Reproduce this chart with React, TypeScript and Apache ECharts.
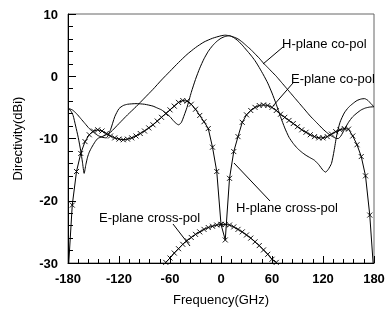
import React, { useEffect, useRef } from "react";
import * as echarts from "echarts";

// E-plane co-pol (plain line)
const eCoAngles = [-180, -175, -170, -165, -160, -155, -150, -145, -140, -135, -130, -125, -120, -115, -110, -100, -90, -80, -75, -70, -65, -60, -55, -50, -47, -45, -40, -35, -30, -25, -20, -15, -10, -5, 0, 5, 10, 15, 20, 25, 30, 35, 40, 45, 50, 55, 60, 65, 70, 75, 80, 85, 90, 95, 100, 105, 110, 115, 120, 123, 126, 130, 133, 136, 140, 145, 150, 155, 160, 165, 169, 173, 177, 180];
const eCoValues = [-5.15, -5.4, -6.0, -6.8, -7.6, -8.4, -9.0, -9.5, -9.8, -9.9, -8.6, -6.5, -5.2, -4.7, -4.5, -4.4, -4.5, -4.8, -5.1, -5.4, -5.9, -6.5, -7.3, -7.8, -7.5, -6.9, -5.0, -2.6, -0.5, 1.3, 2.8, 4.0, 4.9, 5.6, 6.1, 6.4, 6.5, 6.2, 5.7, 5.0, 4.2, 3.4, 2.5, 1.4, 0.2, -1.1, -2.7, -4.5, -6.5, -8.3, -9.8, -10.8, -11.6, -12.2, -12.7, -13.1, -13.5, -14.2, -15.1, -15.4, -15.0, -14.0, -12.0, -9.6, -7.4, -5.9, -5.0, -4.4, -3.9, -3.65, -3.6, -3.9, -4.5, -4.9];

// H-plane co-pol (plain line)
const hCoAngles = [-180, -177, -174, -171, -168, -165, -163, -161, -159, -157, -155, -152, -148, -145, -140, -135, -130, -120, -110, -100, -90, -80, -70, -60, -50, -40, -30, -20, -10, 0, 5, 10, 15, 20, 25, 30, 35, 40, 45, 50, 55, 60, 65, 70, 75, 80, 85, 90, 95, 100, 105, 110, 115, 120, 125, 130, 135, 138, 141, 145, 150, 155, 160, 165, 170, 175, 180];
const hCoValues = [-5.2, -5.5, -6.3, -8.0, -9.8, -12.0, -13.8, -15.6, -14.2, -13.0, -12.2, -11.4, -10.5, -10.0, -9.7, -9.4, -9.0, -7.6, -6.2, -4.9, -3.5, -2.1, -0.6, 0.8, 2.2, 3.5, 4.6, 5.5, 6.1, 6.5, 6.6, 6.5, 6.3, 6.0, 5.5, 4.9, 4.3, 3.6, 2.9, 2.1, 1.4, 0.7, 0.0, -0.8, -1.6, -2.4, -3.2, -4.0, -4.8, -5.6, -6.4, -7.1, -7.8, -8.5, -9.1, -9.6, -9.95, -10.0, -9.6, -8.6, -7.4, -6.5, -5.9, -5.4, -5.1, -4.95, -4.9];

// H-plane cross-pol (line with x markers), every 5 degrees
const hCrossAngles = [-180, -175, -170, -165, -160, -155, -150, -145, -140, -135, -130, -125, -120, -115, -110, -105, -100, -95, -90, -85, -80, -75, -70, -65, -60, -55, -50, -45, -40, -35, -30, -25, -20, -15, -10, -5, 0, 5, 10, 15, 20, 25, 30, 35, 40, 45, 50, 55, 60, 65, 70, 75, 80, 85, 90, 95, 100, 105, 110, 115, 120, 125, 130, 135, 140, 145, 150, 155, 160, 165, 170, 175, 180];
const hCrossValues = [-32, -20.7, -15.3, -12.4, -10.5, -9.4, -8.8, -8.6, -8.8, -9.2, -9.6, -9.9, -10.1, -10.2, -10.1, -9.9, -9.6, -9.2, -8.8, -8.3, -7.8, -7.2, -6.6, -6.0, -5.4, -4.8, -4.2, -3.9, -4.0, -4.5, -5.3, -6.3, -7.3, -8.4, -11.4, -15.3, -23.8, -26.3, -16.4, -12.1, -9.7, -7.4, -6.2, -5.5, -5.0, -4.7, -4.6, -4.7, -5.0, -5.5, -6.1, -6.6, -7.1, -7.6, -8.1, -8.6, -9.0, -9.4, -9.7, -9.9, -9.9, -9.7, -9.3, -8.9, -8.6, -8.4, -8.5, -9.6, -11.0, -12.9, -16.0, -22.3, -32];

// E-plane cross-pol (line with x markers)
const eCrossAngles = [-65, -60, -55, -50, -45, -40, -35, -30, -25, -20, -15, -10, -5, 0, 5, 10, 15, 20, 25, 30, 35, 40, 45, 50, 55, 60, 65];
const eCrossValues = [-29.9, -29.2, -28.4, -27.7, -27.0, -26.4, -25.9, -25.4, -25.0, -24.6, -24.3, -24.1, -23.9, -23.8, -23.8, -23.9, -24.2, -24.6, -25.0, -25.5, -26.0, -26.6, -27.2, -27.9, -28.6, -29.4, -29.9];

const xTicks = { min: -180, max: 180, interval: 60 };
const yTicks = { min: -30, max: 10, interval: 10 };

const seriesLabels = ["H-plane co-pol", "E-plane co-pol", "H-plane cross-pol", "E-plane cross-pol"];

const crossSymbol = "path://M0,0L10,10M10,0L0,10";
const FONT = '"Liberation Sans", Arial, sans-serif';

const zip = (a: number[], v: number[]) => a.map((x, i) => [x, v[i]]);

export default function App() {
  const ref = useRef<HTMLDivElement>(null);
  useEffect(() => {
    const chart = echarts.init(ref.current!, null, { renderer: "svg" });
    const plain = (name: string, a: number[], v: number[]) => ({
      name,
      type: "line",
      data: zip(a, v),
      symbol: "none",
      smooth: 0.2,
      lineStyle: { color: "#000", width: 1 },
      clip: true,
    });
    const marked = (name: string, a: number[], v: number[]) => ({
      name,
      type: "line",
      data: zip(a, v),
      symbol: crossSymbol,
      symbolSize: 5,
      showAllSymbol: true,
      itemStyle: { color: "none", borderColor: "#000", borderWidth: 0.9 },
      lineStyle: { color: "#000", width: 1 },
      clip: true,
    });
    const label = (text: string, x: number, y: number) => ({
      type: "text",
      x,
      y,
      style: { text, font: `13px ${FONT}`, fill: "#000", align: "left", verticalAlign: "middle" },
      z: 100,
    });
    const leader = (x1: number, y1: number, x2: number, y2: number) => ({
      type: "line",
      shape: { x1, y1, x2, y2 },
      style: { stroke: "#000", lineWidth: 1 },
      z: 100,
    });
    chart.setOption({
      animation: false,
      grid: { left: 68, right: 15, top: 14, bottom: 55, show: true, borderColor: "#666", borderWidth: 1 },
      xAxis: {
        type: "value",
        ...xTicks,
        axisLine: { show: true, onZero: false, lineStyle: { color: "#000", width: 1 } },
        axisTick: { show: true, inside: true, length: 7, lineStyle: { color: "#000" } },
        minorTick: { show: true, splitNumber: 5, length: 4, lineStyle: { color: "#000" } },
        splitLine: { show: false },
        axisLabel: { color: "#000", fontWeight: "bold", fontSize: 13, fontFamily: FONT, margin: 9 },
        name: "Frequency(GHz)",
        nameLocation: "middle",
        nameGap: 30,
        nameTextStyle: { fontSize: 13, fontFamily: FONT, color: "#000" },
      },
      yAxis: {
        type: "value",
        ...yTicks,
        axisLine: { show: true, onZero: false, lineStyle: { color: "#000", width: 1 } },
        axisTick: { show: true, inside: true, length: 8, lineStyle: { color: "#000" } },
        minorTick: { show: true, splitNumber: 5, length: 5, lineStyle: { color: "#000" } },
        splitLine: { show: false },
        axisLabel: { color: "#000", fontWeight: "bold", fontSize: 13, fontFamily: FONT, margin: 10 },
        name: "Directivity(dBi)",
        nameLocation: "middle",
        nameGap: 44,
        nameTextStyle: { fontSize: 13, fontFamily: FONT, color: "#000" },
      },
      series: [
        plain(seriesLabels[0], hCoAngles, hCoValues),
        plain(seriesLabels[1], eCoAngles, eCoValues),
        marked(seriesLabels[2], hCrossAngles, hCrossValues),
        marked(seriesLabels[3], eCrossAngles, eCrossValues),
      ],
      graphic: [
        label(seriesLabels[0], 282, 43),
        label(seriesLabels[1], 291, 78),
        label(seriesLabels[2], 236, 207),
        label(seriesLabels[3], 99, 217),
        leader(283, 47, 263, 64),
        leader(293, 83, 273, 106),
        leader(234, 163, 270, 201),
        leader(173, 224, 190, 246),
      ],
    });
    return () => chart.dispose();
  }, []);
  return <div ref={ref} style={{ position: "fixed", left: 0, top: 0, width: 389, height: 318 }} />;
}
